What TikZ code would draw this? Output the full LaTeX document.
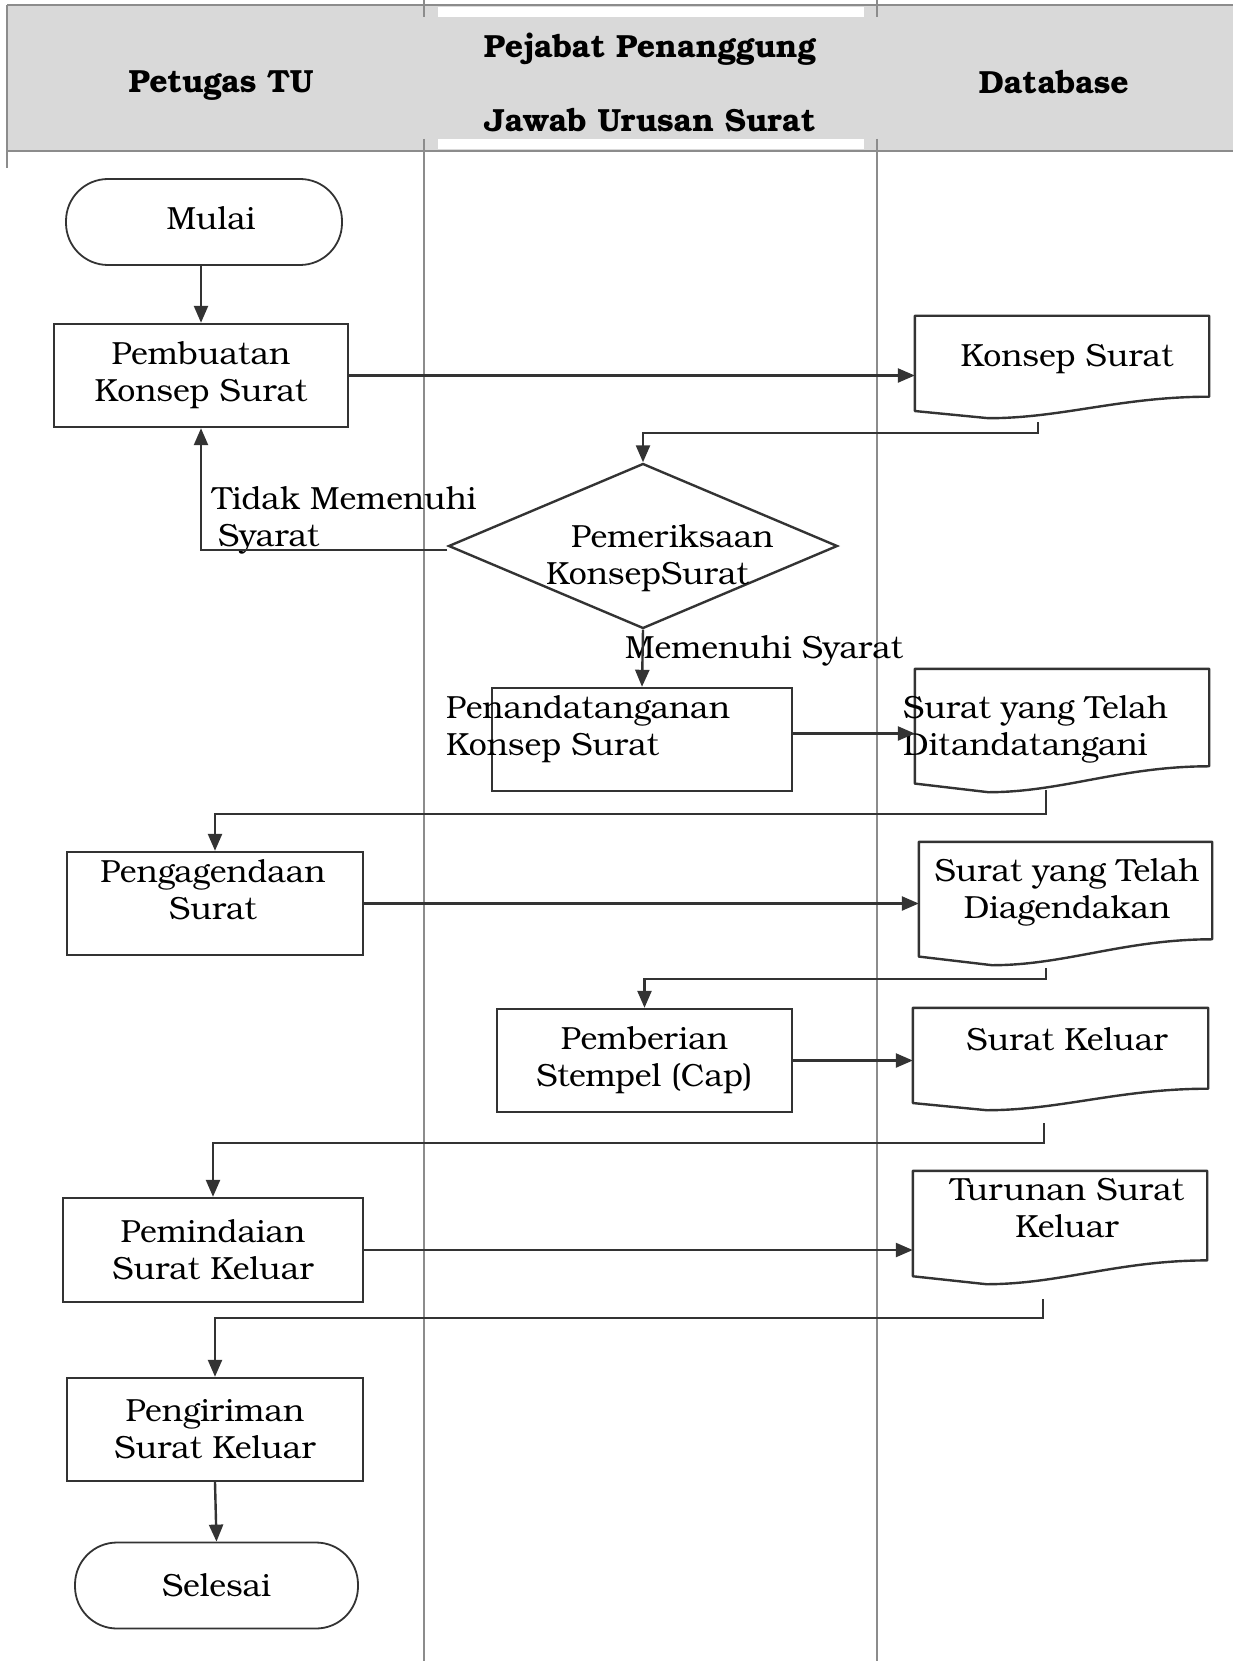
\documentclass[tikz,border=0pt]{standalone}
\usepackage{fontspec}
\setmainfont{TeX Gyre Bonum}
\usepackage{tikz}
\usetikzlibrary{shapes,arrows,positioning,calc,arrows.meta}

\definecolor{garis}{gray}{0.2}
\definecolor{lajur}{gray}{0.55}
\definecolor{kepala}{gray}{0.85}

\newcommand{\teks}{\fontsize{32}{37}\selectfont}
\newcommand{\judul}{\fontsize{32}{38}\selectfont\bfseries}

% outline of a document symbol around an empty node
\newcommand{\dokumen}[1]{%
  \draw[hubung, line join=round] let \p1=(#1.north west), \p2=(#1.south east) in
    (\x1,\y1) -- (\x2,\y1) -- (\x2,{\y1+0.79*(\y2-\y1)})
    .. controls ({\x2-0.3*(\x2-\x1)},{\y1+0.79*(\y2-\y1)}) and ({\x1+0.5*(\x2-\x1)},\y2) ..
    ({\x1+0.25*(\x2-\x1)},\y2) -- (\x1,{\y1+0.93*(\y2-\y1)}) -- cycle;}

\tikzset{
  proses/.style={draw=garis, line width=2.4pt, rectangle, minimum width=296pt, minimum height=103pt, align=center, font=\teks},
  terminal/.style={draw=garis, line width=1.8pt, rectangle, rounded corners=42pt, minimum height=86pt, font=\teks},
  keputusan/.style={draw=garis, line width=2.4pt, diamond, minimum width=389pt, minimum height=165pt, inner sep=0pt},
  dok/.style={rectangle, minimum width=294pt, inner sep=0pt},
  ket/.style={font=\teks, align=left, inner sep=0pt},
  panah/.style={draw=garis, line width=2.4pt, -{Triangle[length=17pt,width=14pt]}},
  hubung/.style={draw=garis, line width=2.4pt},
}

\begin{document}
\begin{tikzpicture}[x=1pt, y=-1pt]
    \useasboundingbox (0,0) rectangle (1233,1661);

    % Header
    \fill[kepala] (7,5) rectangle (1233,151);
    \fill[white] (438,7) rectangle (864,17);
    \fill[white] (438,139) rectangle (864,149);
    \draw[lajur, line width=2.5pt] (7,5) -- (1233,5);
    \draw[lajur, line width=2.5pt] (7,151) -- (1233,151);
    \draw[lajur, line width=2.5pt] (7,5) -- (7,168);
    \node[font=\judul] (lajurtu) at (221,86) {Petugas TU};
    \node[font=\judul, align=center] (lajurpj) at (650,82) {Pejabat Penanggung\\[36pt]Jawab Urusan Surat};
    \node[font=\judul] (lajurdb) at (1054,82) {Database};

    % Lanes
    \draw[lajur, line width=1.5pt] (424,0) -- (424,17);
    \draw[lajur, line width=1.5pt] (424,139) -- (424,1661);
    \draw[lajur, line width=1.5pt] (877,0) -- (877,17);
    \draw[lajur, line width=1.5pt] (877,139) -- (877,1661);

    % Petugas TU
    \node[terminal, minimum width=276pt] (mulai) at (204,222) {};
    \node[ket] (tmulai) at (211,218) {Mulai};
    \node[proses, minimum width=294pt] (buat) at (201,375.5) {Pembuatan\\Konsep Surat};
    \node[proses] (agenda) at (215,903.5) {};
    \node[ket, align=center] (tagenda) at (213,890) {Pengagendaan\\Surat};
    \node[proses, minimum width=300pt, minimum height=104pt] (pindai) at (213,1250) {Pemindaian\\Surat Keluar};
    \node[proses] (kirim) at (215,1429.5) {Pengiriman\\Surat Keluar};
    \node[terminal, minimum width=283pt] (selesai) at (216.5,1585.5) {Selesai};

    % Pejabat
    \node[keputusan] (periksa) at (643,546) {};
    \node[ket, anchor=west] (tperiksa) at (546,558) {\hspace*{25pt}Pemeriksaan\\KonsepSurat};
    \node[proses, minimum width=300pt] (tanda) at (642,739.5) {};
    \node[ket, anchor=west] (ttanda) at (446,729) {Penandatanganan\\Konsep Surat};
    \node[proses, minimum width=295pt] (beri) at (644.5,1060.5) {Pemberian\\Stempel (Cap)};

    % Database
    \node[dok, minimum height=102pt] (dkonsep) at (1062,367) {};
    \node[dok, minimum height=123pt] (dttd) at (1062,730.5) {};
    \node[dok, minimum width=293pt, minimum height=123pt] (dagenda) at (1065.5,903.5) {};
    \node[dok, minimum width=295pt, minimum height=102pt] (dkeluar) at (1060.5,1059) {};
    \node[dok, minimum height=113pt] (dturunan) at (1060,1227.5) {};
    \foreach \d in {dkonsep,dttd,dagenda,dkeluar,dturunan}
        \dokumen{\d};
    \node[ket] (tkonsep) at (1067,359) {Konsep Surat};
    \node[ket, anchor=west] (tttd) at (903,729) {Surat yang Telah\\Ditandatangani};
    \node[ket, align=center] (tagendadb) at (1067,892) {Surat yang Telah\\Diagendakan};
    \node[ket] (tkeluar) at (1067,1039) {Surat Keluar};
    \node[ket, align=center] (tturunan) at (1067,1208) {Turunan Surat\\Keluar};

    % Labels
    \node[ket, anchor=west] (tidak) at (212,520) {Tidak Memenuhi\\\hspace*{6pt}Syarat};
    \node[ket, anchor=west] (ya) at (625,651) {Memenuhi Syarat};

    % Connectors
    \coordinate (k1) at (1038,422);
    \coordinate (k2) at (1046,790);
    \coordinate (k3) at (1046,968);
    \coordinate (k4) at (1044,1123);
    \coordinate (k5) at (1043,1299);

    \draw[panah] (buat.north |- mulai.south) -- (buat.north);
    \draw[panah] (buat.east) -- (buat.east -| dkonsep.west);
    \draw[panah] (k1) -- ++(0,11) -| (periksa.north);
    \draw[panah] ([yshift=-4pt]periksa.west) -| (buat.south);
    \draw[panah] (periksa.south) -- (tanda.north);
    \draw[panah] ([yshift=6pt]tanda.east) -- ([yshift=6pt]tanda.east -| dttd.west);
    \draw[panah] (k2) -- ++(0,24) -| (agenda.north);
    \draw[panah] (agenda.east) -- (agenda.east -| dagenda.west);
    \draw[panah] (k3) -- ++(0,11) -| (beri.north);
    \draw[panah] (beri.east) -- (beri.east -| dkeluar.west);
    \draw[panah] (k4) -- ++(0,20) -| (pindai.north);
    \draw[panah] (pindai.east) -- (pindai.east -| dturunan.west);
    \draw[panah] (k5) -- ++(0,19) -| (kirim.north);
    \draw[panah] (kirim.south) -- (selesai.north);
\end{tikzpicture}
\end{document}
